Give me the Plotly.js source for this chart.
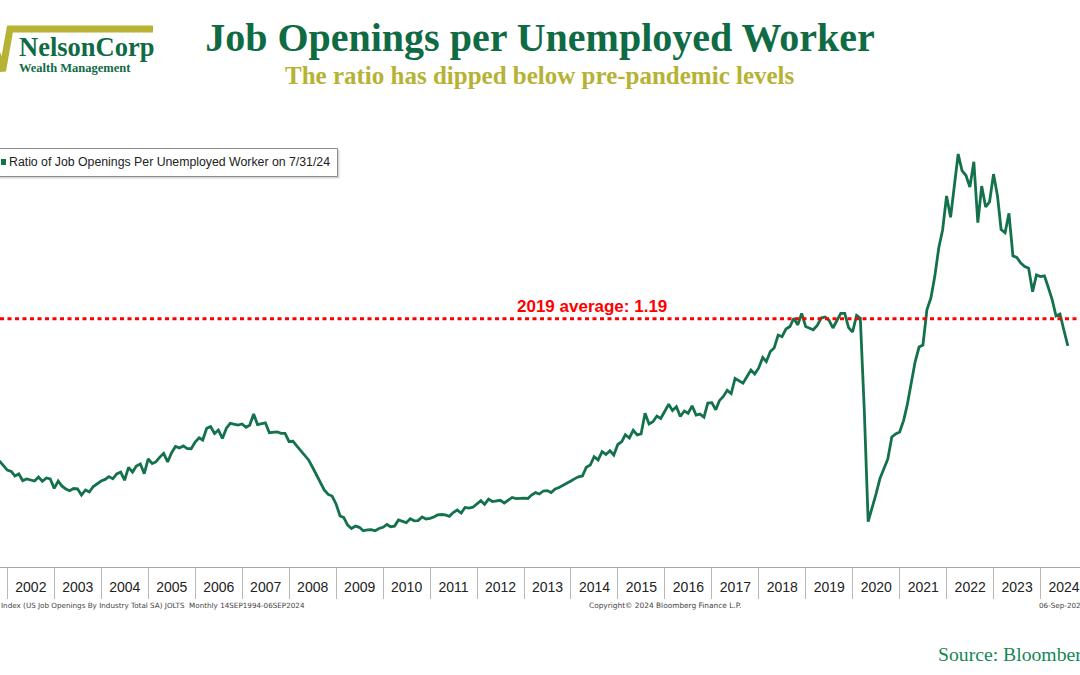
<!DOCTYPE html>
<html>
<head>
<meta charset="utf-8">
<script src="https://cdn.plot.ly/plotly-3.0.1.min.js"></script>
<style>html,body{margin:0;padding:0;background:#fff;}#chart{width:1080px;height:675px;}</style>
</head>
<body>
<div id="chart"></div>
<script>
// ---- data (monthly, month-end) ----
const seriesName = "Ratio of Job Openings Per Unemployed Worker on 7/31/24";
const firstYear = 2001, firstMonth = 10; // October 2001
const v2001 = [0.49, 0.47, 0.445];
const v2002 = [0.438, 0.416, 0.426, 0.393, 0.401, 0.396, 0.391, 0.411, 0.39, 0.406, 0.401, 0.355];
const v2003 = [0.391, 0.367, 0.352, 0.343, 0.354, 0.353, 0.322, 0.347, 0.337, 0.364, 0.376, 0.391];
const v2004 = [0.399, 0.413, 0.402, 0.426, 0.435, 0.395, 0.458, 0.435, 0.465, 0.475, 0.427, 0.5];
const v2005 = [0.477, 0.485, 0.509, 0.527, 0.485, 0.529, 0.561, 0.554, 0.564, 0.551, 0.55, 0.583];
const v2006 = [0.604, 0.593, 0.651, 0.659, 0.625, 0.642, 0.601, 0.651, 0.675, 0.669, 0.667, 0.672];
const v2007 = [0.656, 0.666, 0.721, 0.669, 0.672, 0.678, 0.629, 0.631, 0.633, 0.626, 0.626, 0.586];
const v2008 = [0.587, 0.564, 0.541, 0.522, 0.495, 0.46, 0.423, 0.388, 0.347, 0.325, 0.317, 0.278];
const v2009 = [0.219, 0.212, 0.174, 0.157, 0.169, 0.163, 0.146, 0.15, 0.152, 0.146, 0.157, 0.163];
const v2010 = [0.177, 0.166, 0.169, 0.199, 0.194, 0.186, 0.205, 0.195, 0.196, 0.214, 0.204, 0.207];
const v2011 = [0.214, 0.224, 0.226, 0.224, 0.217, 0.236, 0.248, 0.233, 0.261, 0.258, 0.262, 0.28];
const v2012 = [0.294, 0.276, 0.302, 0.29, 0.293, 0.296, 0.283, 0.295, 0.31, 0.304, 0.307, 0.307];
const v2013 = [0.305, 0.322, 0.334, 0.327, 0.342, 0.344, 0.334, 0.352, 0.359, 0.369, 0.379, 0.391];
const v2014 = [0.403, 0.412, 0.416, 0.459, 0.47, 0.511, 0.495, 0.536, 0.522, 0.54, 0.519, 0.571];
const v2015 = [0.585, 0.619, 0.603, 0.641, 0.618, 0.623, 0.725, 0.672, 0.683, 0.711, 0.699, 0.736];
const v2016 = [0.769, 0.738, 0.757, 0.709, 0.736, 0.725, 0.761, 0.716, 0.721, 0.706, 0.775, 0.777];
const v2017 = [0.742, 0.787, 0.808, 0.838, 0.822, 0.896, 0.885, 0.873, 0.905, 0.938, 0.918, 0.948];
const v2018 = [1.0, 0.979, 1.029, 1.046, 1.11, 1.102, 1.14, 1.152, 1.193, 1.16, 1.217, 1.152];
const v2019 = [1.144, 1.136, 1.157, 1.194, 1.199, 1.184, 1.145, 1.18, 1.217, 1.217, 1.147, 1.125];
const v2020 = [1.207, 1.193, 0.741, 0.191, 0.258, 0.327, 0.404, 0.455, 0.5, 0.608, 0.623, 0.633];
const v2021 = [0.69, 0.766, 0.864, 0.977, 1.051, 1.061, 1.234, 1.293, 1.398, 1.539, 1.628, 1.795];
const v2022 = [1.69, 1.825, 2.002, 1.92, 1.896, 1.839, 1.964, 1.664, 1.844, 1.741, 1.766, 1.903];
const v2023 = [1.795, 1.63, 1.614, 1.71, 1.5, 1.493, 1.465, 1.448, 1.439, 1.324, 1.406, 1.398];
const v2024 = [1.402, 1.347, 1.285, 1.204, 1.214, 1.135, 1.057];
const avg2019 = 1.19;
const avgLabel = "2019 average: 1.19";

const values = [].concat(v2001, v2002, v2003, v2004, v2005, v2006, v2007, v2008, v2009, v2010,
  v2011, v2012, v2013, v2014, v2015, v2016, v2017, v2018, v2019, v2020, v2021, v2022, v2023, v2024);
const dates = values.map((_, i) => {
  const idx = firstMonth - 1 + i;
  const y = firstYear + Math.floor(idx / 12), m = idx % 12;
  return new Date(Date.UTC(y, m + 1, 0)).toISOString().slice(0, 10);
});

// ---- layout helpers (pixel -> paper) ----
const W = 1080, H = 675, PT = 140, PB = 567;
const px = x => x / W;
const py = y => (PB - y) / (PB - PT);
function path(pts) { return pts.map((p, i) => (i ? 'L' : 'M') + px(p[0]).toFixed(5) + ',' + py(p[1]).toFixed(5)).join(' '); }

const green = '#13724c', olive = '#b6b233', titleGreen = '#0f6b44';
const xRange = ['2001-11-04 08:00', '2024-11-02 14:00'];

const traces = [
  {x: dates, y: values, type: 'scatter', mode: 'lines', name: seriesName,
   line: {color: green, width: 2.8}, hoverinfo: 'skip', showlegend: false},
  {x: dates, y: values, type: 'scatter', mode: 'lines', xaxis: 'x2', yaxis: 'y',
   line: {color: 'rgba(0,0,0,0)', width: 0}, hoverinfo: 'skip', showlegend: false}
];

const layout = {
  width: W, height: H,
  margin: {l: 0, r: 0, t: PT, b: H - PB, pad: 0},
  paper_bgcolor: '#fff', plot_bgcolor: '#fff',
  showlegend: false,
  title: {text: '<b>Job Openings per Unemployed Worker</b>', x: 0.5, xanchor: 'center',
          y: 1 - 37 / H, yanchor: 'middle', yref: 'container',
          font: {family: 'Liberation Serif', size: 40, color: titleGreen}},
  xaxis: {type: 'date', range: xRange, tick0: '2002-01-01', dtick: 'M12', tickformat: '%Y',
          ticklabelmode: 'period', ticks: 'outside', ticklen: 7, tickcolor: 'rgba(0,0,0,0)',
          showline: true, linecolor: '#a8a8a8', linewidth: 1, showgrid: false, zeroline: false,
          tickfont: {family: 'Liberation Sans', size: 14, color: '#222'}, fixedrange: true},
  xaxis2: {type: 'date', range: xRange, overlaying: 'x', anchor: 'y', side: 'bottom',
           tick0: '2002-01-01', dtick: 'M12', ticks: 'outside', ticklen: 31, tickwidth: 1,
           tickcolor: '#b8b8b8', showticklabels: false, showgrid: false, showline: false, zeroline: false},
  yaxis: {range: [-0.0325, 2.071], visible: false, showgrid: false, zeroline: false, fixedrange: true},
  shapes: [
    // 2019 average reference line
    {type: 'line', xref: 'paper', yref: 'y', x0: 0, x1: 1, y0: avg2019, y1: avg2019,
     line: {color: '#ff0000', width: 3, dash: '4px,3.5px'}},
    // legend box shadow + box
    {type: 'rect', xref: 'paper', yref: 'paper', x0: px(-5), x1: px(339.5), y0: py(178.5), y1: py(150),
     line: {width: 0}, fillcolor: '#d6d6d6'},
    {type: 'rect', xref: 'paper', yref: 'paper', x0: px(-5), x1: px(337.5), y0: py(176.5), y1: py(148.5),
     line: {color: '#8c8c8c', width: 1}, fillcolor: '#ffffff'},
    {type: 'rect', xref: 'paper', yref: 'paper', x0: px(1), x1: px(6), y0: py(165), y1: py(159),
     line: {width: 0}, fillcolor: green},
    // logo radical mark
    {type: 'path', xref: 'paper', yref: 'paper', path: path([[-6, 44], [2.5, 71], [10, 29], [153, 29]]),
     line: {color: olive, width: 7}}
  ],
  annotations: [
    {text: '<b>The ratio has dipped below pre-pandemic levels</b>', xref: 'paper', yref: 'paper',
     x: 0.5, y: py(75), xanchor: 'center', yanchor: 'middle', showarrow: false,
     font: {family: 'Liberation Serif', size: 25, color: olive}},
    {text: '<b>NelsonCorp</b>', xref: 'paper', yref: 'paper', x: px(17), y: py(47),
     xanchor: 'left', yanchor: 'middle', showarrow: false,
     font: {family: 'Liberation Serif', size: 26.5, color: titleGreen}},
    {text: '<b>Wealth Management</b>', xref: 'paper', yref: 'paper', x: px(17), y: py(68),
     xanchor: 'left', yanchor: 'middle', showarrow: false,
     font: {family: 'Liberation Serif', size: 12.5, color: titleGreen}},
    {text: seriesName, xref: 'paper', yref: 'paper', x: px(7), y: py(162),
     xanchor: 'left', yanchor: 'middle', showarrow: false,
     font: {family: 'Liberation Sans', size: 12.3, color: '#222'}},
    {text: '<b>' + avgLabel + '</b>', xref: 'paper', yref: 'y', x: px(592), y: avg2019, yshift: 12,
     xanchor: 'center', yanchor: 'middle', showarrow: false,
     font: {family: 'Liberation Sans', size: 17, color: '#ff0000'}},
    {text: 'Index (US Job Openings By Industry Total SA) JOLTS  Monthly 14SEP1994-06SEP2024',
     xref: 'paper', yref: 'paper', x: px(-1), y: py(605), xanchor: 'left', yanchor: 'middle', showarrow: false,
     font: {family: 'DejaVu Sans', size: 7.2, color: '#444'}},
    {text: 'Copyright\u00a9 2024 Bloomberg Finance L.P.', xref: 'paper', yref: 'paper', x: px(665), y: py(605),
     xanchor: 'center', yanchor: 'middle', showarrow: false,
     font: {family: 'DejaVu Sans', size: 7.4, color: '#444'}},
    {text: '06-Sep-2024', xref: 'paper', yref: 'paper', x: px(1037), y: py(605),
     xanchor: 'left', yanchor: 'middle', showarrow: false,
     font: {family: 'DejaVu Sans', size: 7.2, color: '#444'}},
    {text: 'Source: Bloomberg', xref: 'paper', yref: 'paper', x: px(936), y: py(654),
     xanchor: 'left', yanchor: 'middle', showarrow: false,
     font: {family: 'Liberation Serif', size: 19.7, color: '#178656'}}
  ]
};

Plotly.newPlot('chart', traces, layout, {staticPlot: true, displayModeBar: false});
</script>
</body>
</html>
